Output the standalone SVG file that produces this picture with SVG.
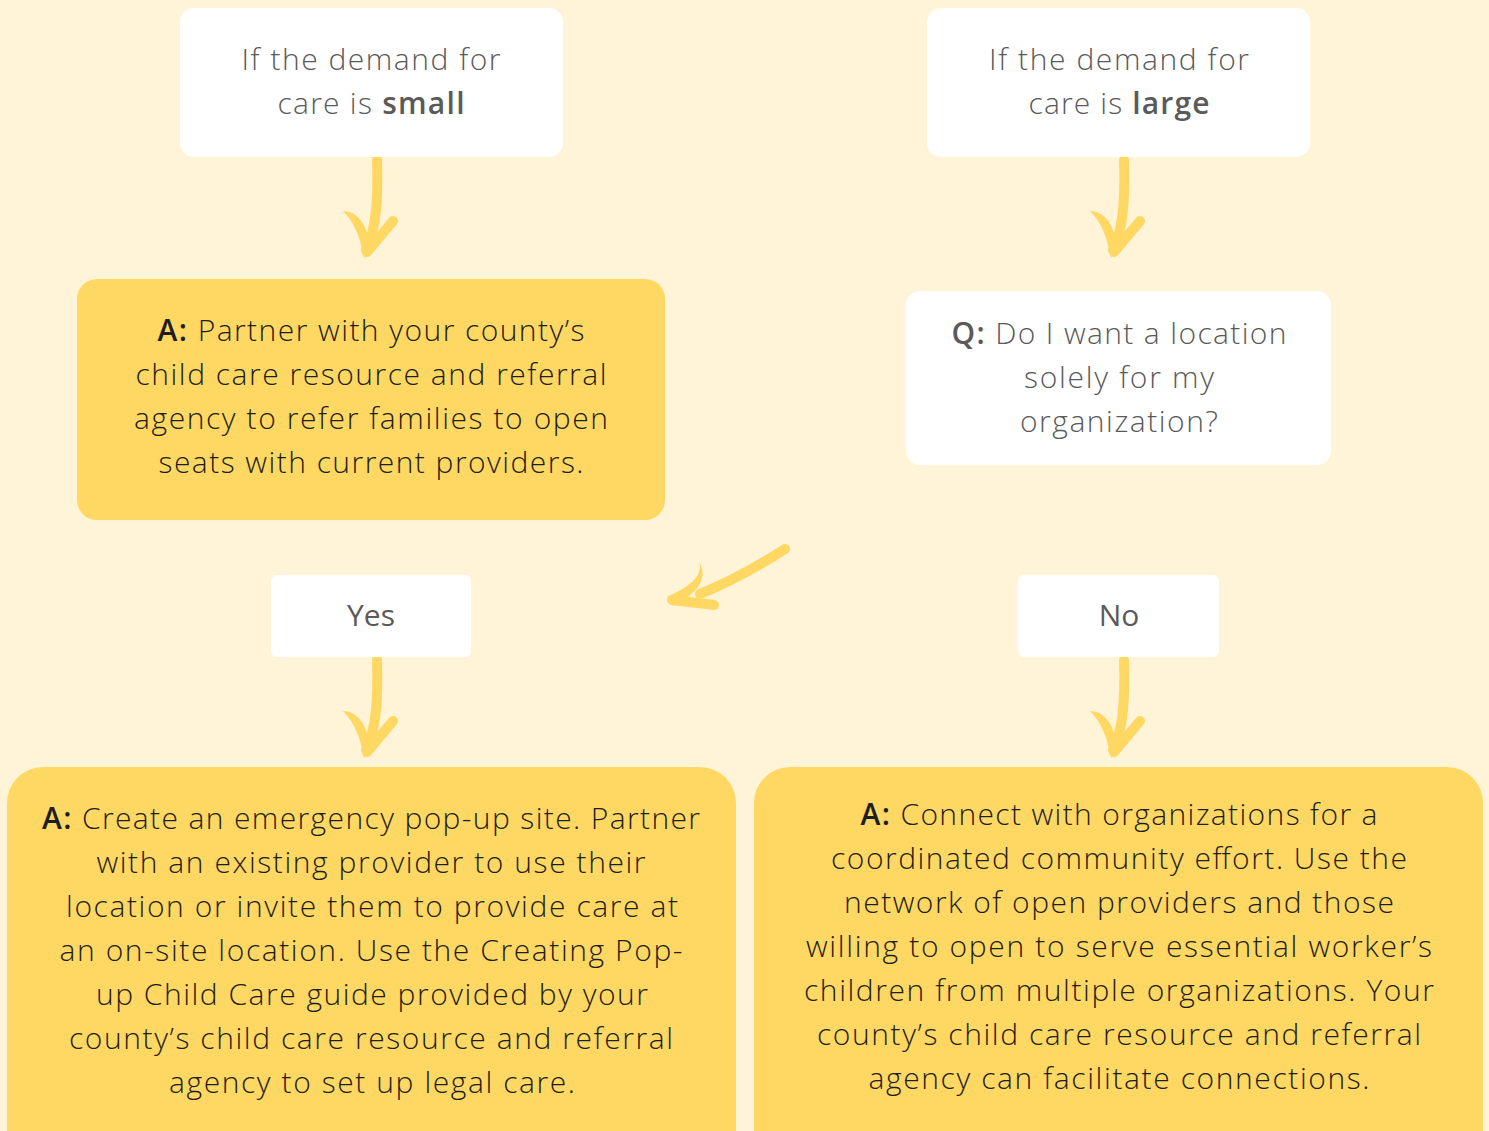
<svg xmlns="http://www.w3.org/2000/svg" width="1489" height="1131" viewBox="0 0 1489 1131">
<style>
.bg{fill:#FFF4D7}
.wbox{fill:#FFFFFF}
.ybox{fill:#FFD863}
text{font-family:"Open Sans","Noto Sans","Liberation Sans",sans-serif;font-size:30px;font-weight:300;text-anchor:middle}
.g{fill:#5A5A5A}
.d{fill:#1E1E1E}
.b{font-weight:600}
.arrow{fill:#FFD863}
.stem{fill:none;stroke:#FFD863;stroke-width:10;stroke-linecap:round}
</style>
<defs>
<g id="darrow">
<path class="stem" d="M377,160 C378,195 377,228 366,250"/>
<path class="stem" d="M393,221 L367,252"/>
<path class="arrow" d="M343,211 C356,211 367,222 371,249 L364,258 C360,236 354,222 343,211 Z"/>
</g>
</defs>
<rect class="bg" x="0" y="0" width="1489" height="1131"/>

<g id="connectors">
<use href="#darrow"/>
<use href="#darrow" transform="translate(747,0)"/>
<use href="#darrow" transform="translate(0,500)"/>
<use href="#darrow" transform="translate(747,500)"/>
<path class="stem" d="M785,549 C760,565 735,580 700,594"/>
<path class="stem" d="M672,600 L714,605"/>
<path class="arrow" d="M699,561 C703,575 693,585 667,597 L673,606 C700,592 708,578 699,561 Z"/>
</g>

<g id="node-small">
<rect class="wbox" x="180" y="8" width="383" height="149" rx="14"/>
<text class="g" x="371" y="70" textLength="259" lengthAdjust="spacing">If the demand for</text>
<text class="g" x="371" y="114" textLength="187" lengthAdjust="spacing">care is <tspan class="b">small</tspan></text>
</g>

<g id="node-large">
<rect class="wbox" x="927" y="8" width="383" height="149" rx="14"/>
<text class="g" x="1119" y="70" textLength="260" lengthAdjust="spacing">If the demand for</text>
<text class="g" x="1119" y="114" textLength="181" lengthAdjust="spacing">care is <tspan class="b">large</tspan></text>
</g>

<g id="node-a1">
<rect class="ybox" x="77" y="279" width="588" height="241" rx="20"/>
<text class="d" x="371" y="341" textLength="427" lengthAdjust="spacing"><tspan class="b">A:</tspan> Partner with your county’s</text>
<text class="d" x="371" y="385" textLength="471" lengthAdjust="spacing">child care resource and referral</text>
<text class="d" x="371" y="429" textLength="474" lengthAdjust="spacing">agency to refer families to open</text>
<text class="d" x="371" y="473" textLength="425" lengthAdjust="spacing">seats with current providers.</text>
</g>

<g id="node-q">
<rect class="wbox" x="906" y="291" width="425" height="174" rx="14"/>
<text class="g" x="1119" y="344" textLength="335" lengthAdjust="spacing"><tspan class="b">Q:</tspan> Do I want a location</text>
<text class="g" x="1119" y="388" textLength="190" lengthAdjust="spacing">solely for my</text>
<text class="g" x="1119" y="432" textLength="198" lengthAdjust="spacing">organization?</text>
</g>

<g id="node-yes">
<rect class="wbox" x="271" y="575" width="200" height="82" rx="6"/>
<text class="g" x="371" y="626" style="font-weight:400">Yes</text>
</g>

<g id="node-no">
<rect class="wbox" x="1018" y="575" width="201" height="82" rx="6"/>
<text class="g" x="1119" y="626" style="font-weight:400">No</text>
</g>

<g id="node-popup">
<rect class="ybox" x="7" y="767" width="729" height="400" rx="36"/>
<text class="d" x="371" y="829" textLength="658" lengthAdjust="spacing"><tspan class="b">A:</tspan> Create an emergency pop-up site. Partner</text>
<text class="d" x="371" y="873" textLength="549" lengthAdjust="spacing">with an existing provider to use their</text>
<text class="d" x="372" y="917" textLength="612" lengthAdjust="spacing">location or invite them to provide care at</text>
<text class="d" x="371" y="961" textLength="623" lengthAdjust="spacing">an on-site location. Use the Creating Pop-</text>
<text class="d" x="372" y="1005" textLength="552" lengthAdjust="spacing">up Child Care guide provided by your</text>
<text class="d" x="371" y="1049" textLength="604" lengthAdjust="spacing">county’s child care resource and referral</text>
<text class="d" x="372" y="1093" textLength="406" lengthAdjust="spacing">agency to set up legal care.</text>
</g>

<g id="node-community">
<rect class="ybox" x="754" y="767" width="729" height="400" rx="36"/>
<text class="d" x="1119" y="825" textLength="517" lengthAdjust="spacing"><tspan class="b">A:</tspan> Connect with organizations for a</text>
<text class="d" x="1119" y="869" textLength="576" lengthAdjust="spacing">coordinated community effort. Use the</text>
<text class="d" x="1119" y="913" textLength="550" lengthAdjust="spacing">network of open providers and those</text>
<text class="d" x="1119" y="957" textLength="626" lengthAdjust="spacing">willing to open to serve essential worker’s</text>
<text class="d" x="1119" y="1001" textLength="630" lengthAdjust="spacing">children from multiple organizations. Your</text>
<text class="d" x="1119" y="1045" textLength="604" lengthAdjust="spacing">county’s child care resource and referral</text>
<text class="d" x="1119" y="1089" textLength="501" lengthAdjust="spacing">agency can facilitate connections.</text>
</g>
</svg>
